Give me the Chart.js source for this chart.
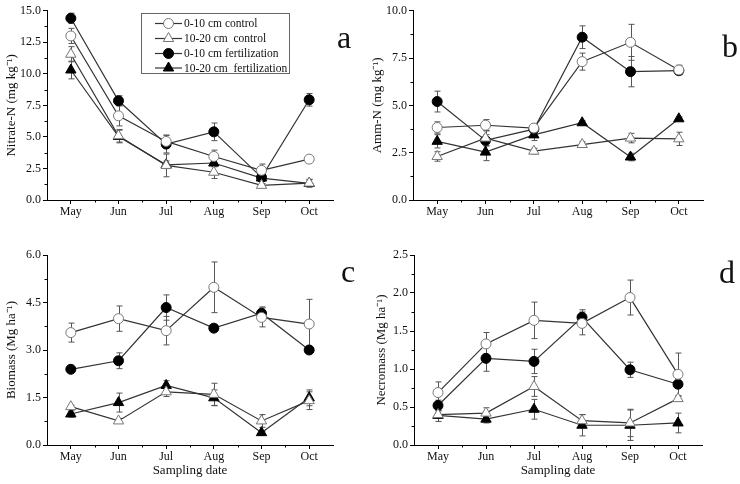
<!DOCTYPE html>
<html><head><meta charset="utf-8">
<script src="https://cdn.jsdelivr.net/npm/chart.js@4.4.0/dist/chart.umd.min.js"></script>
<style>
html,body{margin:0;padding:0;background:#fff;}
#wrap{position:relative;width:740px;height:484px;overflow:hidden;background:#fff;}
canvas{position:absolute;}
</style></head><body>
<div id="wrap">
<canvas id="ca" width="370" height="240" style="left:0;top:0"></canvas>
<canvas id="cb" width="370" height="240" style="left:370px;top:0"></canvas>
<canvas id="cc" width="370" height="244" style="left:0;top:240px"></canvas>
<canvas id="cd" width="370" height="244" style="left:370px;top:240px"></canvas>
</div>
<script>
const months = ['May','Jun','Jul','Aug','Sep','Oct'];
const seriesLabels = ['0-10 cm control','10-20 cm  control','0-10 cm fertilization','10-20 cm  fertilization'];

// (a) Nitrate-N, mg kg-1
const nitrateCtrl010 = [13.0, 6.67, 4.64, 3.45, 2.35, 3.24];
const nitrateCtrl010Err = [0.6, 0.8, 0.5, 0.5, 0.5, 0.2];
const nitrateCtrl1020 = [11.55, 5.09, 2.74, 2.2, 1.16, 1.34];
const nitrateCtrl1020Err = [0.6, 0.5, 0.9, 0.5, 0.15, 0.3];
const nitrateFert010 = [14.4, 7.86, 4.43, 5.4, 1.79, 7.94];
const nitrateFert010Err = [0.4, 0.4, 0.7, 0.7, 0.3, 0.5];
const nitrateFert1020 = [10.3, 5.03, 2.79, 2.93, 1.74, 1.32];
const nitrateFert1020Err = [0.7, 0.5, 0.3, 0.3, 0.2, 0.3];

// (b) Amm-N, mg kg-1
const ammCtrl010 = [3.83, 3.95, 3.8, 7.31, 8.33, 6.87];
const ammCtrl010Err = [0.3, 0.3, 0.2, 0.45, 0.95, 0.25];
const ammCtrl1020 = [2.3, 3.27, 2.58, 2.93, 3.27, 3.23];
const ammCtrl1020Err = [0.25, 0.4, 0.15, 0.15, 0.25, 0.35];
const ammFert010 = [5.2, 3.15, 3.74, 8.6, 6.78, 6.83];
const ammFert010Err = [0.55, 0.3, 0.25, 0.6, 0.8, 0.2];
const ammFert1020 = [3.1, 2.53, 3.44, 4.08, 2.27, 4.29];
const ammFert1020Err = [0.35, 0.45, 0.3, 0.1, 0.2, 0.1];

// (c) Biomass, Mg ha-1
const bioCtrl010 = [3.55, 3.99, 3.61, 4.98, 4.03, 3.82];
const bioCtrl010Err = [0.3, 0.4, 0.45, 0.8, 0.3, 0.78];
const bioCtrl1020 = [1.21, 0.76, 1.68, 1.6, 0.76, 1.4];
const bioCtrl1020Err = [0.05, 0.08, 0.15, 0.35, 0.2, 0.28];
const bioFert010 = [2.39, 2.66, 4.34, 3.69, 4.16, 3.0];
const bioFert010Err = [0.05, 0.25, 0.4, 0.1, 0.2, 0.1];
const bioFert1020 = [0.98, 1.34, 1.88, 1.49, 0.39, 1.49];
const bioFert1020Err = [0.1, 0.3, 0.15, 0.25, 0.05, 0.25];

// (d) Necromass, Mg ha-1
const necCtrl010 = [0.69, 1.33, 1.64, 1.6, 1.94, 0.93];
const necCtrl010Err = [0.14, 0.15, 0.24, 0.15, 0.23, 0.28];
const necCtrl1020 = [0.4, 0.42, 0.77, 0.32, 0.29, 0.61];
const necCtrl1020Err = [0.05, 0.07, 0.13, 0.08, 0.18, 0.03];
const necFert010 = [0.52, 1.14, 1.1, 1.68, 0.99, 0.8];
const necFert010Err = [0.07, 0.17, 0.16, 0.1, 0.1, 0.04];
const necFert1020 = [0.39, 0.34, 0.47, 0.26, 0.26, 0.29];
const necFert1020Err = [0.08, 0.05, 0.13, 0.14, 0.2, 0.13];

const FONT = '"Liberation Serif", "Times New Roman", serif';

const errorBars = {
  id: 'errorBars',
  beforeDatasetsDraw(chart) {
    const ctx = chart.ctx, y = chart.scales.y;
    ctx.save();
    ctx.strokeStyle = '#555';
    ctx.lineWidth = 1;
    chart.data.datasets.forEach((ds, i) => {
      const meta = chart.getDatasetMeta(i);
      meta.data.forEach((pt, j) => {
        const v = ds.data[j], e = ds.err[j];
        const px = Math.round(pt.x) + 0.5;
        const t = y.getPixelForValue(v + e), b = y.getPixelForValue(v - e);
        ctx.beginPath();
        ctx.moveTo(px, t); ctx.lineTo(px, b);
        ctx.moveTo(px - 3, t); ctx.lineTo(px + 3, t);
        ctx.moveTo(px - 3, b); ctx.lineTo(px + 3, b);
        ctx.stroke();
      });
    });
    ctx.restore();
  }
};

const extras = {
  id: 'extras',
  afterDraw(chart, args, opts) {
    const ctx = chart.ctx, x = chart.scales.x, y = chart.scales.y, ca = chart.chartArea;
    ctx.save();
    ctx.strokeStyle = '#000';
    ctx.lineWidth = 1;
    ctx.beginPath();
    const st = opts.yStep;
    for (let k = 0; k * st + st / 2 < y.max; k++) {
      const py = Math.round(y.getPixelForValue(k * st + st / 2)) + 0.5;
      ctx.moveTo(ca.left, py); ctx.lineTo(ca.left - 2.5, py);
    }
    for (let i = 0; i < months.length - 1; i++) {
      const px = Math.round((x.getPixelForTick(i) + x.getPixelForTick(i + 1)) / 2) + 0.5;
      ctx.moveTo(px, ca.bottom); ctx.lineTo(px, ca.bottom + 2.5);
    }
    ctx.stroke();
    // panel letter
    ctx.fillStyle = '#111';
    ctx.font = '32px ' + FONT;
    ctx.textBaseline = 'alphabetic';
    ctx.fillText(opts.letter, opts.lx, opts.ly);
    // legend
    if (opts.legend) {
      ctx.strokeStyle = '#666';
      ctx.lineWidth = 1;
      ctx.strokeRect(141.5, 13.5, 148, 60);
      const ys = [23.5, 38.5, 53.5, 68];
      chart.data.datasets.forEach((ds, i) => {
        ctx.beginPath();
        ctx.strokeStyle = '#333';
        ctx.lineWidth = 1.2;
        ctx.moveTo(155, ys[i]); ctx.lineTo(182, ys[i]);
        ctx.stroke();
        ctx.fillStyle = ds.pointBackgroundColor;
        ctx.strokeStyle = ds.pointBorderColor;
        ctx.lineWidth = 1;
        Chart.helpers.drawPoint(ctx, {pointStyle: ds.pointStyle, radius: ds.pointRadius, borderWidth: 1, rotation: 0}, 168.5, ys[i]);
        ctx.fillStyle = '#111';
        ctx.font = '11.5px ' + FONT;
        ctx.textBaseline = 'middle';
        ctx.fillText(ds.label, 184, ys[i] + 0.5);
      });
    }
    ctx.restore();
  }
};

function makePanel(id, p) {
  const styles = [
    {pointStyle: 'circle', pointRadius: 5, pointBackgroundColor: '#fff', pointBorderColor: '#777'},
    {pointStyle: 'triangle', pointRadius: 6, pointBackgroundColor: '#fff', pointBorderColor: '#777'},
    {pointStyle: 'circle', pointRadius: 5, pointBackgroundColor: '#000', pointBorderColor: '#000'},
    {pointStyle: 'triangle', pointRadius: 6, pointBackgroundColor: '#000', pointBorderColor: '#000'}
  ];
  const datasets = p.vals.map((v, i) => Object.assign({
    label: seriesLabels[i], data: v, err: p.errs[i],
    borderColor: '#333', borderWidth: 1.2, pointBorderWidth: 1,
    pointHoverRadius: 5, tension: 0, fill: false
  }, styles[i]));
  const c = document.getElementById(id);
  return new Chart(c, {
    type: 'line',
    data: {labels: months, datasets},
    options: {
      responsive: false, animation: false,
      layout: {padding: {left: 0, top: p.top, right: c.width - p.right, bottom: 0}},
      plugins: {
        legend: {display: false}, tooltip: {enabled: false},
        extras: {yStep: p.step, letter: p.letter, lx: p.lx, ly: p.ly, legend: !!p.legend}
      },
      scales: {
        x: {
          offset: true,
          grid: {display: true, drawOnChartArea: false, drawTicks: true, tickLength: 4, color: '#000', offset: false},
          border: {display: true, color: '#000', width: 1},
          ticks: {color: '#111', font: {family: FONT, size: 12}, padding: 1, maxRotation: 0},
          title: {display: !!p.xTitle, text: p.xTitle || '', color: '#111', font: {family: FONT, size: 13}, padding: {top: 0, bottom: 6}},
          afterFit: s => { s.height = c.height - p.bottom; }
        },
        y: {
          min: 0, max: p.max,
          grid: {display: true, drawOnChartArea: false, drawTicks: true, tickLength: 4, color: '#000'},
          border: {display: true, color: '#000', width: 1},
          ticks: {stepSize: p.step, color: '#111', font: {family: FONT, size: 12}, padding: 2,
                  callback: v => Number(v).toFixed(1)},
          title: {display: true, text: p.yTitle, color: '#111', font: {family: FONT, size: 13}, padding: {top: p.ytPad, bottom: 0}},
          afterFit: s => { s.width = p.left; }
        }
      }
    },
    plugins: [errorBars, extras]
  });
}

makePanel('ca', {
  vals: [nitrateCtrl010, nitrateCtrl1020, nitrateFert010, nitrateFert1020],
  errs: [nitrateCtrl010Err, nitrateCtrl1020Err, nitrateFert010Err, nitrateFert1020Err],
  max: 15, step: 2.5, yTitle: 'Nitrate-N (mg kg\u207B\u00B9)', ytPad: 4,
  left: 47, right: 333, top: 10.7, bottom: 200,
  letter: 'a', lx: 337, ly: 48, legend: true
});
makePanel('cb', {
  vals: [ammCtrl010, ammCtrl1020, ammFert010, ammFert1020],
  errs: [ammCtrl010Err, ammCtrl1020Err, ammFert010Err, ammFert1020Err],
  max: 10, step: 2.5, yTitle: 'Amm-N (mg kg\u207B\u00B9)', ytPad: 0,
  left: 43, right: 333, top: 10.7, bottom: 200,
  letter: 'b', lx: 352, ly: 57
});
makePanel('cc', {
  vals: [bioCtrl010, bioCtrl1020, bioFert010, bioFert1020],
  errs: [bioCtrl010Err, bioCtrl1020Err, bioFert010Err, bioFert1020Err],
  max: 6, step: 1.5, yTitle: 'Biomass (Mg ha\u207B\u00B9)', ytPad: 4, xTitle: 'Sampling date',
  left: 47, right: 333, top: 15, bottom: 205,
  letter: 'c', lx: 341, ly: 42
});
makePanel('cd', {
  vals: [necCtrl010, necCtrl1020, necFert010, necFert1020],
  errs: [necCtrl010Err, necCtrl1020Err, necFert010Err, necFert1020Err],
  max: 2.5, step: 0.5, yTitle: 'Necromass (Mg ha\u207B\u00B9)', ytPad: 4, xTitle: 'Sampling date',
  left: 44, right: 332, top: 15, bottom: 205,
  letter: 'd', lx: 349, ly: 43
});
</script>
</body></html>
